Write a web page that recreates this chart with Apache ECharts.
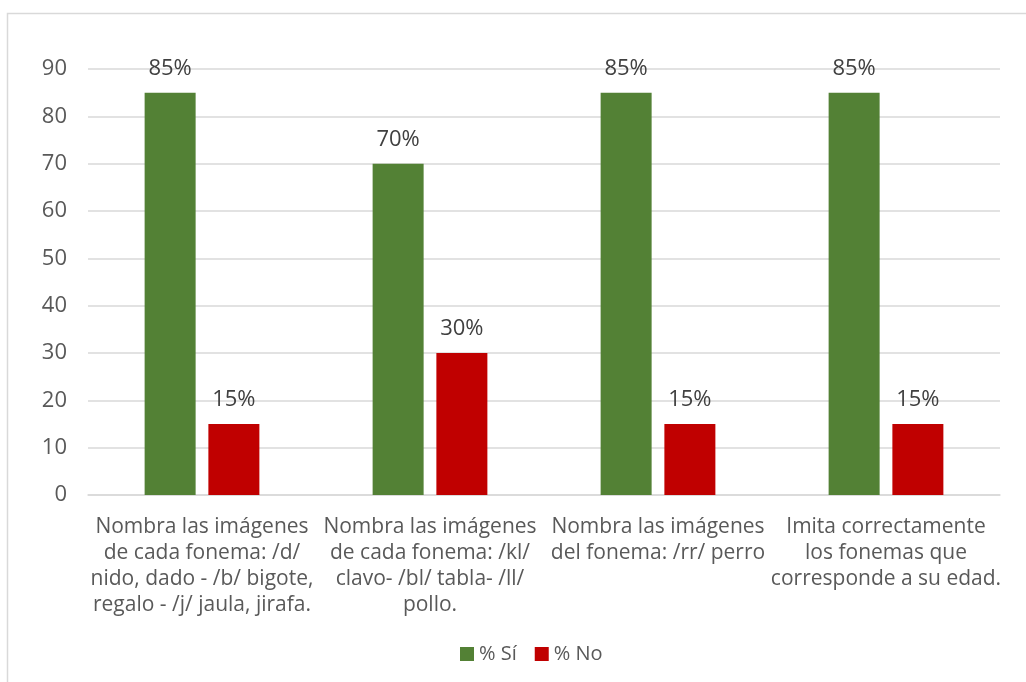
<!DOCTYPE html>
<html>
<head>
<meta charset="utf-8">
<style>
  html, body { margin: 0; padding: 0; background: #fff; }
  #chart { width: 1026px; height: 682px; }
</style>
<script src="https://cdn.jsdelivr.net/npm/echarts@6/dist/echarts.min.js"></script>
</head>
<body>
<div id="chart"></div>
<script>
// categorias (eje x), con saltos de linea como en el original
let categories = [
  'Nombra las imágenes\nde cada fonema: /d/\nnido, dado - /b/ bigote,\nregalo - /j/ jaula, jirafa.',
  'Nombra las imágenes\nde cada fonema: /kl/\nclavo- /bl/ tabla- /ll/\npollo.',
  'Nombra las imágenes\ndel fonema: /rr/ perro',
  'Imita correctamente\nlos fonemas que\ncorresponde a su edad.'
];
let seriesNames = ['% Sí', '% No'];
let siValues = [85, 70, 85, 85];
let noValues = [15, 30, 15, 15];
let yTicks = [0, 10, 20, 30, 40, 50, 60, 70, 80, 90];

let font = '"Open Sans", Lato, sans-serif';
let myChart = echarts.init(document.getElementById('chart'));

let labelStyle = {
  show: true,
  position: 'top',
  distance: 13,
  color: '#404040',
  fontSize: 22,
  fontFamily: font,
  formatter: function (p) {
    return p.value + '%';
  }
};

let option = {
  animation: false,
  textStyle: { fontFamily: font },
  // marco del grafico
  graphic: [{
    type: 'rect',
    shape: { x: 7.5, y: 13.5, width: 1100, height: 800 },
    style: { fill: 'none', stroke: '#d9d9d9', lineWidth: 1.5 },
    silent: true
  }],
  grid: {
    left: 88,
    right: 26,
    top: 69,
    bottom: 187
  },
  legend: {
    data: seriesNames,
    top: 639,
    left: 455,
    icon: 'rect',
    itemWidth: 14,
    itemHeight: 14,
    itemGap: 18,
    itemTextGap: 4,
    textStyle: { color: '#595959', fontSize: 20, fontFamily: font }
  },
  xAxis: {
    type: 'category',
    data: categories,
    axisLine: { lineStyle: { color: '#d9d9d9', width: 1.5 } },
    axisTick: { show: false },
    axisLabel: {
      interval: 0,
      color: '#595959',
      fontSize: 21,
      lineHeight: 26,
      margin: 19,
      fontFamily: font
    }
  },
  yAxis: {
    type: 'value',
    min: yTicks[0],
    max: yTicks[yTicks.length - 1],
    interval: 10,
    axisLine: { show: false },
    axisTick: { show: false },
    splitLine: { lineStyle: { color: '#d9d9d9', width: 1.5 } },
    axisLabel: {
      color: '#595959',
      fontSize: 22,
      margin: 21,
      fontFamily: font
    }
  },
  series: [
    {
      name: seriesNames[0],
      type: 'bar',
      data: siValues,
      barWidth: 51,
      barGap: '25%',
      itemStyle: { color: '#538135' },
      label: labelStyle
    },
    {
      name: seriesNames[1],
      type: 'bar',
      data: noValues,
      barWidth: 51,
      itemStyle: { color: '#c00000' },
      label: labelStyle
    }
  ]
};

myChart.setOption(option);
</script>
</body>
</html>
